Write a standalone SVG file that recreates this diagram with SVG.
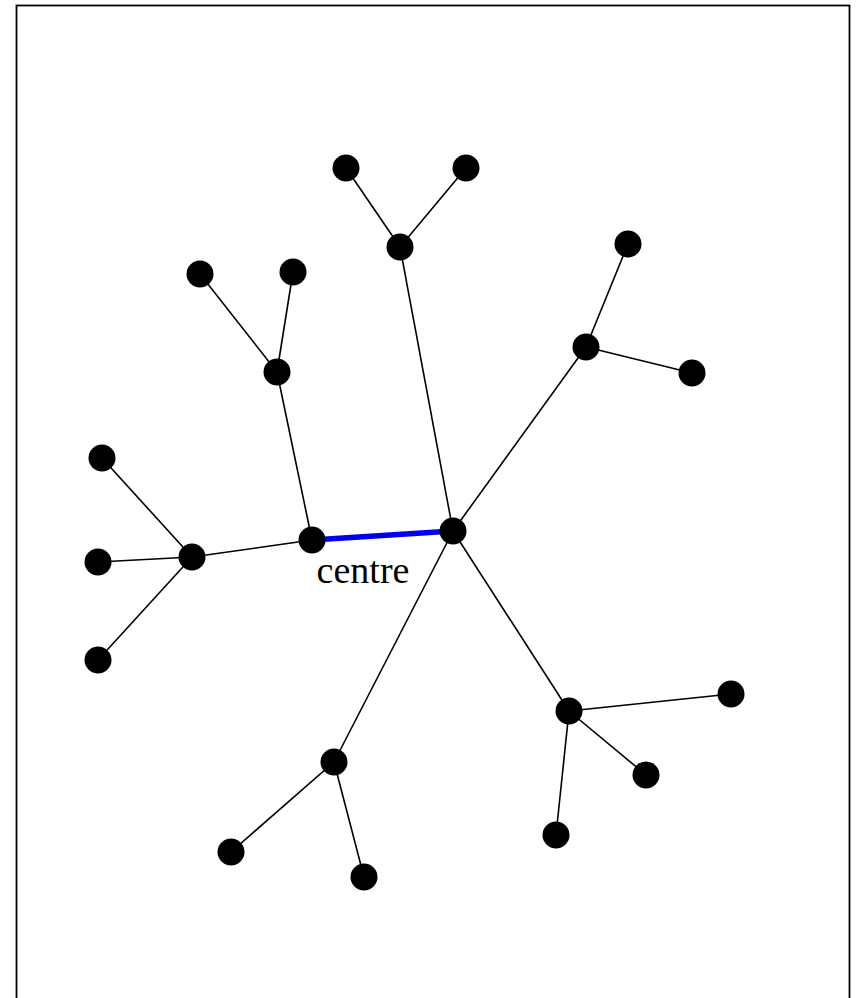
<svg xmlns="http://www.w3.org/2000/svg" width="857" height="998" viewBox="0 0 857 998">
<style>
.e{stroke:#000;stroke-width:1.6;fill:none}
.c{stroke:#0000ee;stroke-width:5.5;fill:none}
.n{fill:#000}
.t{font-family:"Liberation Serif",serif;font-size:38px;fill:#000}
</style>
<rect x="0" y="0" width="857" height="998" fill="#fff"/>
<rect x="16.5" y="5.5" width="833" height="1000" fill="none" stroke="#000" stroke-width="1.8"/>
<g id="connectors">
<line class="e" x1="453" y1="531" x2="400" y2="247"/>
<line class="e" x1="400" y1="247" x2="346" y2="168"/>
<line class="e" x1="400" y1="247" x2="466" y2="168"/>
<line class="e" x1="453" y1="531" x2="586" y2="347"/>
<line class="e" x1="586" y1="347" x2="628" y2="244"/>
<line class="e" x1="586" y1="347" x2="692" y2="373"/>
<line class="e" x1="453" y1="531" x2="569" y2="711"/>
<line class="e" x1="569" y1="711" x2="731" y2="694"/>
<line class="e" x1="569" y1="711" x2="646" y2="775"/>
<line class="e" x1="569" y1="711" x2="556" y2="835"/>
<line class="e" x1="453" y1="531" x2="334" y2="762"/>
<line class="e" x1="334" y1="762" x2="231" y2="852"/>
<line class="e" x1="334" y1="762" x2="364" y2="877"/>
<line class="e" x1="312" y1="540" x2="277" y2="372"/>
<line class="e" x1="277" y1="372" x2="200" y2="274"/>
<line class="e" x1="277" y1="372" x2="293" y2="272"/>
<line class="e" x1="312" y1="540" x2="192" y2="557"/>
<line class="e" x1="192" y1="557" x2="102" y2="458"/>
<line class="e" x1="192" y1="557" x2="98" y2="562"/>
<line class="e" x1="192" y1="557" x2="98" y2="660"/>
<line class="c" x1="312" y1="540" x2="453" y2="531"/>
</g>
<g id="nA"><circle class="n" cx="453" cy="531" r="13.5"/></g>
<g id="nB"><circle class="n" cx="312" cy="540" r="13.5"/></g>
<g id="nTop"><circle class="n" cx="400" cy="247" r="13.5"/></g>
<g id="nTopL"><circle class="n" cx="346" cy="168" r="13.5"/></g>
<g id="nTopR"><circle class="n" cx="466" cy="168" r="13.5"/></g>
<g id="nRU"><circle class="n" cx="586" cy="347" r="13.5"/></g>
<g id="nRU1"><circle class="n" cx="628" cy="244" r="13.5"/></g>
<g id="nRU2"><circle class="n" cx="692" cy="373" r="13.5"/></g>
<g id="nRL"><circle class="n" cx="569" cy="711" r="13.5"/></g>
<g id="nRL1"><circle class="n" cx="731" cy="694" r="13.5"/></g>
<g id="nRL2"><circle class="n" cx="646" cy="775" r="13.5"/></g>
<g id="nRL3"><circle class="n" cx="556" cy="835" r="13.5"/></g>
<g id="nLo"><circle class="n" cx="334" cy="762" r="13.5"/></g>
<g id="nLo1"><circle class="n" cx="231" cy="852" r="13.5"/></g>
<g id="nLo2"><circle class="n" cx="364" cy="877" r="13.5"/></g>
<g id="nUL"><circle class="n" cx="277" cy="372" r="13.5"/></g>
<g id="nUL1"><circle class="n" cx="200" cy="274" r="13.5"/></g>
<g id="nUL2"><circle class="n" cx="293" cy="272" r="13.5"/></g>
<g id="nL"><circle class="n" cx="192" cy="557" r="13.5"/></g>
<g id="nL1"><circle class="n" cx="102" cy="458" r="13.5"/></g>
<g id="nL2"><circle class="n" cx="98" cy="562" r="13.5"/></g>
<g id="nL3"><circle class="n" cx="98" cy="660" r="13.5"/></g>
<g id="label"><text class="t" x="363" y="583" text-anchor="middle">centre</text></g>
</svg>
